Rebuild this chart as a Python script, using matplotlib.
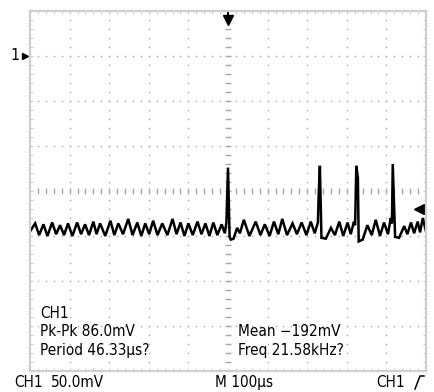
import numpy as np
import matplotlib
matplotlib.use("Agg")
import matplotlib.pyplot as plt
import matplotlib.transforms as mtransforms

plt.rcParams['font.family'] = ['DejaVu Sans']
plt.rcParams['font.stretch'] = 'condensed'

# Scope settings
volts_per_div_mV = 50.0
time_per_div_us = 100.0
ground_mV = 0.0            # CH1 ground reference
trig_level_mV = -170.0     # trigger level
trig_time_us = 0.0         # trigger position

# CH1 trace: time (us) and voltage (mV) of successive trace vertices
t_us = [-500, -487, -477, -466, -456, -444, -434, -424, -414, -404, -393, -381,
        -371, -361, -351, -340, -332, -323, -310, -297, -287, -277, -265, -252,
        -241, -229, -219, -209, -199, -189, -178, -166, -153, -140, -130, -120,
        -110, -100, -89, -77, -67, -57, -47, -37, -27, -16, -8, -4,
        0, 4, 7, 14, 23, 30, 40, 54, 70, 82, 93, 105, 116, 127, 137, 149,
        163, 174, 186, 198, 209, 219, 227, 229, 232, 236, 247, 260, 270, 281,
        291, 302, 310, 318, 321, 324, 328, 330, 340, 352, 363, 373, 384, 394,
        404, 411, 414, 416, 422, 432, 445, 453, 462, 470, 479, 485, 492, 500]
v_mV = [-195, -186, -199, -187, -200, -185, -198, -188, -199, -186, -200, -185,
        -198, -187, -199, -184, -198, -186, -200, -183, -199, -186, -198, -181,
        -199, -185, -200, -186, -198, -183, -199, -186, -199, -181, -198, -185,
        -200, -186, -199, -184, -198, -186, -200, -185, -199, -187, -197, -185,
        -124, -201, -204, -203, -191, -197, -182, -200, -184, -199, -187, -200,
        -184, -198, -181, -199, -186, -198, -185, -199, -184, -197, -185, -154,
        -122, -202, -203, -191, -199, -184, -200, -185, -198, -184, -188, -122,
        -135, -206, -204, -188, -199, -182, -200, -185, -198, -180, -186, -120,
        -201, -202, -189, -198, -185, -197, -184, -196, -180, -195]

# Readout text
readout_title = "CH1"
readout_left = ["Pk-Pk 86.0mV", "Period 46.33µs?"]
readout_right = ["Mean \u2212192mV", "Freq 21.58kHz?"]
status_ch = "CH1"
status_scale = "50.0mV"
status_time = "M 100µs"
status_trig = "CH1"

W, H = 435, 392
fig = plt.figure(figsize=(W / 100, H / 100), dpi=100)
ax_left, ax_right, ax_top, ax_bottom = 30, 426, 11, 371
ax = fig.add_axes([ax_left / W, 1 - ax_bottom / H,
                   (ax_right - ax_left) / W, (ax_bottom - ax_top) / H])

n_xdiv, n_ydiv = 10, 8
x_lo = trig_time_us - n_xdiv / 2 * time_per_div_us
x_hi = trig_time_us + n_xdiv / 2 * time_per_div_us
y_center = ground_mV - 3 * volts_per_div_mV
y_lo = y_center - n_ydiv / 2 * volts_per_div_mV
y_hi = y_center + n_ydiv / 2 * volts_per_div_mV
ax.set_xlim(x_lo, x_hi)
ax.set_ylim(y_lo, y_hi)

grid_gray = '#a8a8a8'
border_gray = '#cfcfcf'

# Graticule: dotted major lines (dots at every minor position)
x_major = np.arange(x_lo, x_hi + 1, time_per_div_us)
y_major = np.arange(y_lo, y_hi + 1, volts_per_div_mV)
x_minor = np.arange(x_lo, x_hi + 1, time_per_div_us / 5)
y_minor = np.arange(y_lo, y_hi + 1, volts_per_div_mV / 5)

for xv in x_major[1:-1]:
    if xv == trig_time_us:
        continue
    ax.plot(np.full_like(y_minor, xv), y_minor, ls='none', marker='s',
            ms=1.0, mew=0, color=grid_gray)
for yv in y_major[1:-1]:
    if yv == y_center:
        continue
    ax.plot(x_minor, np.full_like(x_minor, yv), ls='none', marker='s',
            ms=1.0, mew=0, color=grid_gray)

# Center cross with tick marks
ax.plot(np.full_like(y_minor[1:-1], trig_time_us), y_minor[1:-1], ls='none',
        marker='_', ms=4, mew=1.0, color=grid_gray)
ax.plot(x_minor[1:-1], np.full_like(x_minor[1:-1], y_center), ls='none',
        marker='|', ms=4, mew=1.0, color=grid_gray)

# Border with inward ticks on all sides
for sp in ax.spines.values():
    sp.set_color(border_gray)
    sp.set_linewidth(1.6)
ax.set_xticks(x_major)
ax.set_yticks(y_major)
ax.set_xticks(x_minor, minor=True)
ax.set_yticks(y_minor, minor=True)
ax.tick_params(which='both', direction='in', length=2.5, width=0.8,
               color=border_gray, top=True, right=True,
               labelbottom=False, labelleft=False)

# Trace
ax.plot(t_us, v_mV, color='black', lw=1.8, solid_joinstyle='miter')

# Ground marker "1>"
bt = mtransforms.blended_transform_factory(ax.transAxes, ax.transData)
ax.plot([-0.013], [ground_mV], transform=bt, marker='>', ms=5, color='black',
        clip_on=False)
ax.text(-0.038, ground_mV, "1", transform=bt, ha='center', va='center',
        fontsize=11.5, color='black')

# Trigger position arrow at top
bt2 = mtransforms.blended_transform_factory(ax.transData, ax.transAxes)
ax.plot([trig_time_us, trig_time_us], [1.0, 0.975], transform=bt2,
        color='black', lw=1.5, clip_on=False)
ax.plot([trig_time_us], [0.975], transform=bt2, marker='v', ms=7,
        color='black', clip_on=False)

# Trigger level arrow at right edge
ax.plot([0.985, 1.0], [trig_level_mV, trig_level_mV], transform=bt,
        color='black', lw=1.5, clip_on=False)
ax.plot([0.983], [trig_level_mV], transform=bt, marker='<', ms=7,
        color='black', clip_on=False)

# Readouts
fs = 11


def put(x_px, y_px, s):
    fig.text(x_px / W, 1 - y_px / H, s, ha='left', va='center',
             fontsize=fs, color='black')


put(40, 313, readout_title)
put(40, 332, readout_left[0])
put(40, 350.5, readout_left[1])
put(237.5, 332, readout_right[0])
put(237.5, 350.5, readout_right[1])

put(14, 382.5, status_ch)
put(51, 382.5, status_scale)
put(215, 382.5, status_time)
put(376, 382.5, status_trig)

# Rising-edge trigger slope symbol
fig.add_artist(plt.Line2D([415 / W, 420 / W, 424 / W],
                          [1 - 389 / H, 1 - 376 / H, 1 - 376 / H],
                          color='black', lw=1.1))

fig.savefig("out.png", dpi=100, facecolor='white')
